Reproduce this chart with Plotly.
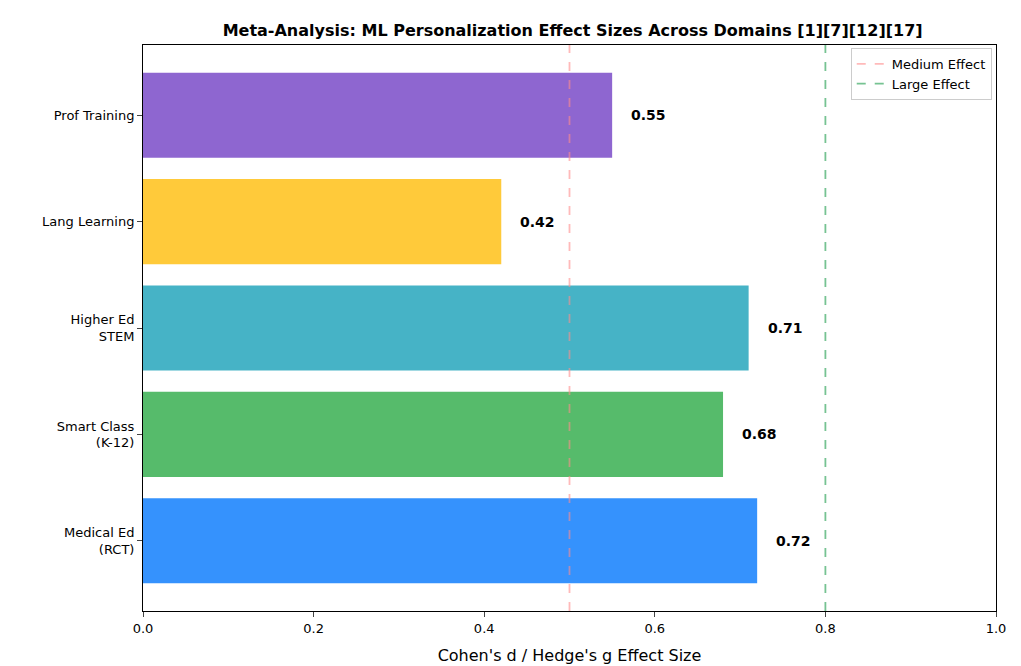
import plotly.graph_objects as go

domains = ["Medical Ed<br>(RCT)", "Smart Class<br>(K-12)", "Higher Ed<br>STEM", "Lang Learning", "Prof Training"]
effects = [0.72, 0.68, 0.71, 0.42, 0.55]
colors = ["#3592fd", "#56bb6b", "#46b3c6", "#ffca3a", "#8e66d0"]
medium = 0.5
large = 0.8

fig = go.Figure()
fig.add_trace(go.Bar(y=list(range(len(domains))), x=effects, orientation="h",
                     marker=dict(color=colors, line=dict(width=0)), width=0.8, showlegend=False))
fig.add_trace(go.Scatter(x=[medium, medium], y=[-0.66, 4.66], mode="lines", name="Medium Effect",
                         line=dict(color="rgba(255,140,140,0.6)", dash="dash", width=1.8)))
fig.add_trace(go.Scatter(x=[large, large], y=[-0.66, 4.66], mode="lines", name="Large Effect",
                         line=dict(color="rgba(60,170,100,0.7)", dash="dash", width=1.8)))

for i, v in enumerate(effects):
    fig.add_annotation(x=v + 0.02, y=i, text=f"<b>{v:.2f}</b>", showarrow=False, xanchor="left",
                       font=dict(size=14, color="black"))

fig.update_layout(
    width=1021, height=666, plot_bgcolor="white", paper_bgcolor="white",
    font=dict(family="DejaVu Sans", size=13, color="black"),
    margin=dict(l=135, r=33, t=37, b=61),
    title=dict(text="<b>Meta-Analysis: ML Personalization Effect Sizes Across Domains [1][7][12][17]</b>",
               x=0.553, xanchor="center", y=0.975, font=dict(size=16)),
    xaxis=dict(range=[0, 1], tickvals=[0, 0.2, 0.4, 0.6, 0.8, 1.0], ticktext=["0.0", "0.2", "0.4", "0.6", "0.8", "1.0"],
               showgrid=False, zeroline=False, showline=True, linecolor="black", mirror=True,
               ticks="outside", title=dict(text="Cohen's d / Hedge's g Effect Size", font=dict(size=16))),
    yaxis=dict(range=[-0.66, 4.66], tickvals=list(range(len(domains))), ticktext=domains,
               showgrid=False, zeroline=False, showline=True, linecolor="black", mirror=True, ticks="outside"),
    legend=dict(x=0.995, y=0.995, xanchor="right", yanchor="top", bordercolor="#cccccc", borderwidth=1,
                bgcolor="rgba(255,255,255,0.8)", font=dict(size=13)),
)
fig.write_html("out.html")
